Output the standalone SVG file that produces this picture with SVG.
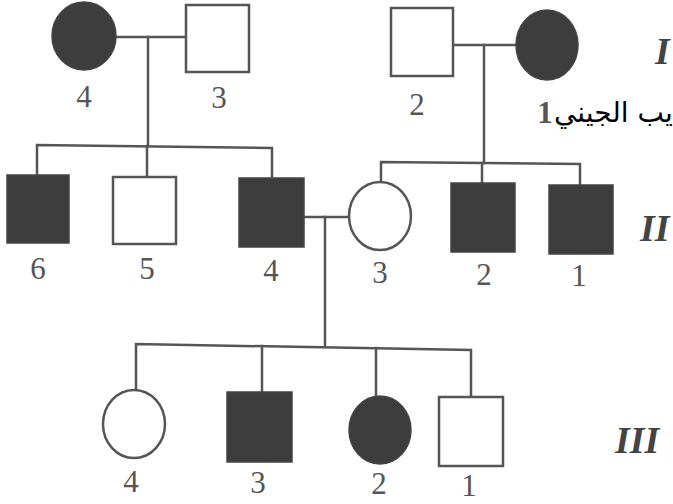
<svg xmlns="http://www.w3.org/2000/svg" width="673" height="504" viewBox="0 0 673 504">
<style>
.ln{stroke:#555;stroke-width:2.5;fill:none;stroke-linecap:square}
.open{fill:#fff;stroke:#555;stroke-width:2.5}
.aff{fill:#3d3d3d;stroke:#444;stroke-width:1.5}
.lbl{font-family:"Liberation Serif",serif;font-size:31px;fill:#555;text-anchor:middle}
.gen{font-family:"Liberation Serif",serif;font-size:38px;font-style:italic;font-weight:bold;fill:#444}
.ar{font-family:"DejaVu Sans",sans-serif;font-size:28px;fill:#000}
</style>
<rect width="673" height="504" fill="#fff"/>
<g id="connectors">
<line class="ln" x1="116" y1="37" x2="186" y2="37"/>
<line class="ln" x1="148" y1="37" x2="148" y2="146"/>
<polyline class="ln" points="37,175 37,145 272,148 272,178"/>
<line class="ln" x1="147" y1="146" x2="147" y2="177"/>
<line class="ln" x1="453" y1="45" x2="516" y2="45"/>
<line class="ln" x1="484" y1="45" x2="484" y2="163"/>
<polyline class="ln" points="381,182 381,162 580,164 580,185"/>
<line class="ln" x1="482" y1="163" x2="482" y2="183"/>
<line class="ln" x1="304" y1="217" x2="349" y2="217"/>
<line class="ln" x1="325" y1="217" x2="325" y2="345"/>
<polyline class="ln" points="136,390 136,344 471,350 471,397"/>
<line class="ln" x1="262" y1="346" x2="262" y2="392"/>
<line class="ln" x1="376" y1="348" x2="376" y2="396"/>
</g>
<g id="I-4"><ellipse class="aff" cx="84" cy="36" rx="32" ry="34"/><text class="lbl" x="84" y="107">4</text></g>
<g id="I-3"><rect class="open" x="186" y="5" width="63" height="67"/><text class="lbl" x="219" y="108">3</text></g>
<g id="I-2"><rect class="open" x="391" y="8" width="62" height="68"/><text class="lbl" x="417" y="115">2</text></g>
<g id="I-1"><ellipse class="aff" cx="547" cy="45" rx="31" ry="35"/><text class="lbl" x="545" y="123" font-weight="bold">1</text></g>
<g id="II-6"><rect class="aff" x="7" y="175" width="62" height="68"/><text class="lbl" x="38" y="279">6</text></g>
<g id="II-5"><rect class="open" x="113" y="177" width="63" height="67"/><text class="lbl" x="147" y="279">5</text></g>
<g id="II-4"><rect class="aff" x="239" y="178" width="65" height="69"/><text class="lbl" x="271" y="281">4</text></g>
<g id="II-3"><ellipse class="open" cx="380" cy="216" rx="31" ry="34"/><text class="lbl" x="380" y="283">3</text></g>
<g id="II-2"><rect class="aff" x="451" y="183" width="64" height="69"/><text class="lbl" x="484" y="285">2</text></g>
<g id="II-1"><rect class="aff" x="549" y="185" width="64" height="69"/><text class="lbl" x="579" y="286">1</text></g>
<g id="III-4"><ellipse class="open" cx="134" cy="424" rx="31" ry="34"/><text class="lbl" x="131" y="492">4</text></g>
<g id="III-3"><rect class="aff" x="227" y="392" width="65" height="70"/><text class="lbl" x="258" y="493">3</text></g>
<g id="III-2"><ellipse class="aff" cx="380" cy="430" rx="31" ry="34"/><text class="lbl" x="379" y="494">2</text></g>
<g id="III-1"><rect class="open" x="439" y="397" width="64" height="69"/><text class="lbl" x="469" y="496">1</text></g>
<text class="ar" x="554" y="122">يب الجيني</text>
<text class="gen" x="655" y="64">I</text>
<text class="gen" x="640" y="241">II</text>
<text class="gen" x="615" y="453">III</text>
</svg>
